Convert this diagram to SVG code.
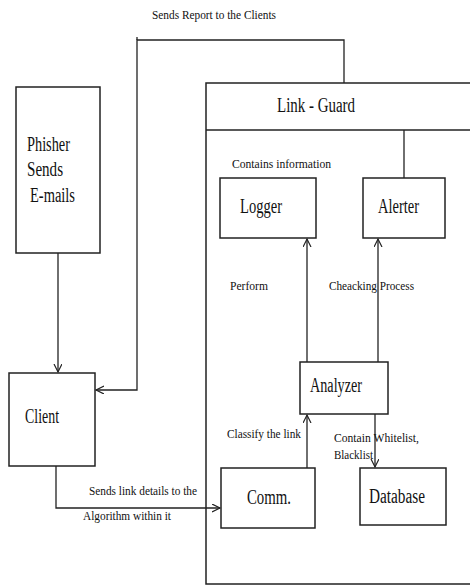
<svg xmlns="http://www.w3.org/2000/svg" width="470" height="585" viewBox="0 0 470 585">
<defs>
<marker id="arr" markerWidth="10" markerHeight="10" refX="8" refY="4" orient="auto" markerUnits="userSpaceOnUse">
<path d="M0,0 L8,4 L0,8" fill="none" stroke="#222" stroke-width="1.2"/>
</marker>
<style>
.box{fill:#fff;stroke:#222;stroke-width:1.5}
.ln{fill:none;stroke:#222;stroke-width:1.3}
.t{font-family:"Liberation Serif","Times New Roman",serif;fill:#111}
.big{font-size:20px}
.sm{font-size:13.5px}
</style>
</defs>
<rect width="470" height="585" fill="#fff"/>
<g id="linkguard">
<rect class="box" x="206" y="83" width="300" height="501"/>
<line class="ln" x1="206" y1="130" x2="470" y2="130"/>
<text class="t" x="277" y="112" font-size="20" textLength="78" lengthAdjust="spacingAndGlyphs">Link - Guard</text>
</g>
<g id="phisher">
<rect class="box" x="16" y="87" width="84" height="166"/>
<text class="t big" x="27" y="151" textLength="43" lengthAdjust="spacingAndGlyphs">Phisher</text>
<text class="t big" x="27" y="176" textLength="36" lengthAdjust="spacingAndGlyphs">Sends</text>
<text class="t big" x="30" y="202" textLength="45" lengthAdjust="spacingAndGlyphs">E-mails</text>
</g>
<g id="client">
<rect class="box" x="9" y="373" width="86" height="93"/>
<text class="t big" x="25" y="423" textLength="34" lengthAdjust="spacingAndGlyphs">Client</text>
</g>
<g id="logger">
<rect class="box" x="220" y="178" width="96" height="60"/>
<text class="t big" x="240" y="213" textLength="42" lengthAdjust="spacingAndGlyphs">Logger</text>
</g>
<g id="alerter">
<rect class="box" x="363" y="178" width="82" height="60"/>
<text class="t big" x="378" y="213" textLength="41" lengthAdjust="spacingAndGlyphs">Alerter</text>
</g>
<g id="analyzer">
<rect class="box" x="300" y="362" width="88" height="52"/>
<text class="t big" x="310" y="392" textLength="52" lengthAdjust="spacingAndGlyphs">Analyzer</text>
</g>
<g id="comm">
<rect class="box" x="221" y="468" width="94" height="60"/>
<text class="t big" x="247" y="504" textLength="44" lengthAdjust="spacingAndGlyphs">Comm.</text>
</g>
<g id="database">
<rect class="box" x="360" y="468" width="86" height="57"/>
<text class="t big" x="369" y="503" textLength="56" lengthAdjust="spacingAndGlyphs">Database</text>
</g>
<g id="connectors">
<polyline class="ln" points="344,83 344,40 137,40 137,390 96,390" marker-end="url(#arr)"/>
<line class="ln" x1="137" y1="37" x2="137" y2="40"/>
<line class="ln" x1="58" y1="253" x2="58" y2="372" marker-end="url(#arr)"/>
<polyline class="ln" points="56,466 56,508 220,508" marker-end="url(#arr)"/>
<line class="ln" x1="307" y1="468" x2="307" y2="415" marker-end="url(#arr)"/>
<line class="ln" x1="307" y1="362" x2="307" y2="239" marker-end="url(#arr)"/>
<line class="ln" x1="378" y1="362" x2="378" y2="239" marker-end="url(#arr)"/>
<line class="ln" x1="375" y1="414" x2="375" y2="467" marker-end="url(#arr)"/>
<line class="ln" x1="404" y1="130" x2="404" y2="178"/>
</g>
<g id="labels">
<text class="t sm" x="152" y="19" textLength="124" lengthAdjust="spacingAndGlyphs">Sends Report to the Clients</text>
<text class="t sm" x="232" y="168" textLength="99" lengthAdjust="spacingAndGlyphs">Contains information</text>
<text class="t sm" x="230" y="290" textLength="38" lengthAdjust="spacingAndGlyphs">Perform</text>
<text class="t sm" x="329" y="290" textLength="85" lengthAdjust="spacingAndGlyphs">Cheacking Process</text>
<text class="t sm" x="227" y="438" textLength="74" lengthAdjust="spacingAndGlyphs">Classify the link</text>
<text class="t sm" x="334" y="442" textLength="85" lengthAdjust="spacingAndGlyphs">Contain Whitelist,</text>
<text class="t sm" x="334" y="459" textLength="39" lengthAdjust="spacingAndGlyphs">Blacklist</text>
<text class="t sm" x="89" y="495" textLength="108" lengthAdjust="spacingAndGlyphs">Sends link details to the</text>
<text class="t sm" x="83" y="520" textLength="88" lengthAdjust="spacingAndGlyphs">Algorithm within it</text>
</g>
</svg>
